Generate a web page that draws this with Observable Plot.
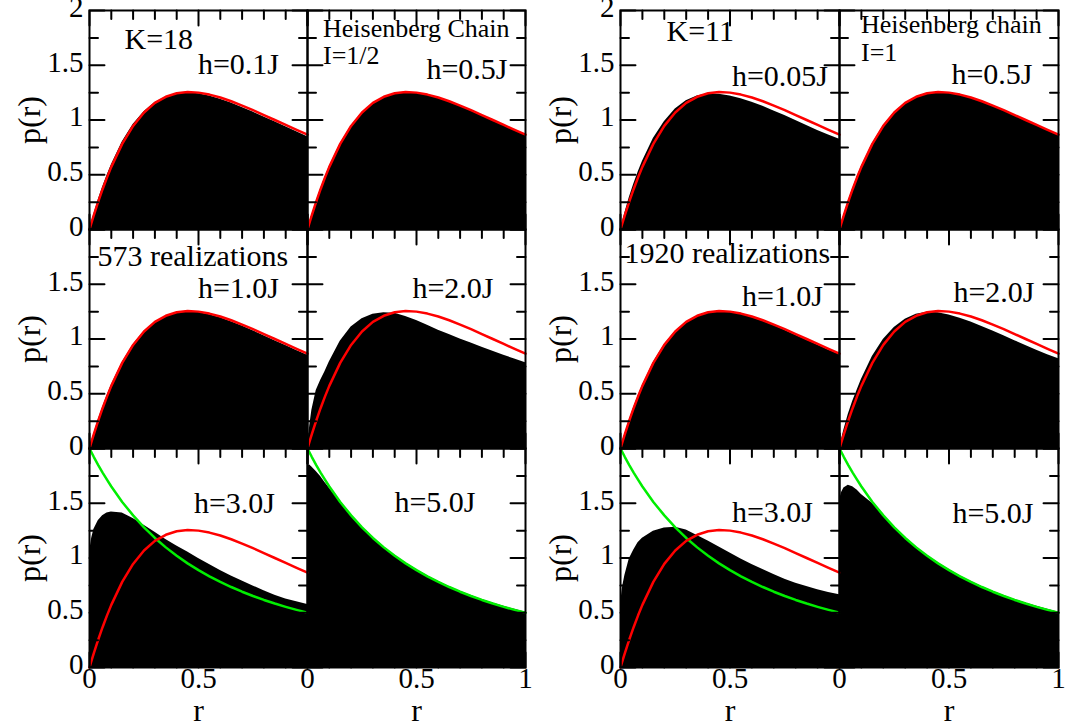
<!DOCTYPE html>
<html>
<head>
<meta charset="utf-8">
<script src="https://cdn.jsdelivr.net/npm/d3@7"></script>
<script src="https://cdn.jsdelivr.net/npm/@observablehq/plot@0.6"></script>
<style>
html, body { margin: 0; padding: 0; background: #fff; }
#wrap { position: relative; width: 1065px; height: 726px; overflow: hidden; background: #fff; }
#wrap svg { position: absolute; top: 0; overflow: visible; }
</style>
</head>
<body>
<div id="wrap"></div>
<script>
// ---------- data ----------
const rGrid = [0, 0.01, 0.02, 0.04, 0.06, 0.08, 0.1, 0.15, 0.2, 0.25, 0.3, 0.35, 0.4, 0.45, 0.5, 0.55, 0.6, 0.65, 0.7, 0.75, 0.8, 0.85, 0.9, 0.95, 1];

// red reference curve (GOE)
const wignerDyson = [0, 0.067, 0.131, 0.254, 0.368, 0.474, 0.572, 0.782, 0.946, 1.069, 1.156, 1.212, 1.244, 1.255, 1.250, 1.232, 1.205, 1.171, 1.132, 1.090, 1.045, 1.000, 0.955, 0.910, 0.866];
// green reference curve (Poisson)
const poisson = [2.0, 1.961, 1.922, 1.849, 1.780, 1.715, 1.653, 1.512, 1.389, 1.280, 1.183, 1.097, 1.020, 0.951, 0.889, 0.833, 0.781, 0.735, 0.692, 0.653, 0.617, 0.584, 0.554, 0.526, 0.5];

// K=18, Heisenberg chain I=1/2, 573 realizations
const k18_h01 = [0, 0.070, 0.140, 0.270, 0.385, 0.490, 0.590, 0.800, 0.960, 1.075, 1.160, 1.210, 1.240, 1.250, 1.240, 1.220, 1.190, 1.155, 1.115, 1.072, 1.028, 0.983, 0.938, 0.893, 0.848];
const k18_h05 = [0, 0.068, 0.133, 0.256, 0.370, 0.476, 0.574, 0.782, 0.945, 1.067, 1.153, 1.209, 1.240, 1.250, 1.245, 1.227, 1.199, 1.165, 1.126, 1.083, 1.038, 0.993, 0.948, 0.903, 0.860];
const k18_h10 = [0, 0.069, 0.135, 0.260, 0.374, 0.480, 0.578, 0.786, 0.948, 1.068, 1.153, 1.207, 1.238, 1.248, 1.242, 1.222, 1.193, 1.158, 1.118, 1.075, 1.030, 0.985, 0.940, 0.895, 0.852];
const k18_h20 = [0, 0.200, 0.350, 0.530, 0.620, 0.700, 0.790, 0.980, 1.110, 1.185, 1.225, 1.240, 1.235, 1.205, 1.170, 1.125, 1.080, 1.040, 1.000, 0.963, 0.925, 0.887, 0.852, 0.817, 0.783];
const k18_h30 = [1.050, 1.180, 1.260, 1.340, 1.385, 1.410, 1.420, 1.410, 1.360, 1.300, 1.235, 1.170, 1.110, 1.055, 0.995, 0.940, 0.885, 0.835, 0.790, 0.745, 0.700, 0.660, 0.625, 0.600, 0.575];
const k18_h50 = [1.840, 1.850, 1.830, 1.790, 1.745, 1.690, 1.640, 1.515, 1.393, 1.284, 1.188, 1.102, 1.025, 0.956, 0.894, 0.838, 0.786, 0.740, 0.697, 0.658, 0.622, 0.589, 0.559, 0.531, 0.505];

// K=11, Heisenberg chain I=1, 1920 realizations
const k11_h005 = [0, 0.075, 0.150, 0.290, 0.410, 0.520, 0.620, 0.830, 0.985, 1.100, 1.175, 1.220, 1.240, 1.235, 1.220, 1.195, 1.163, 1.125, 1.083, 1.040, 0.995, 0.950, 0.905, 0.862, 0.825];
const k11_h05 = [0, 0.068, 0.133, 0.257, 0.371, 0.477, 0.575, 0.784, 0.947, 1.068, 1.154, 1.209, 1.241, 1.251, 1.245, 1.227, 1.200, 1.166, 1.127, 1.085, 1.040, 0.995, 0.950, 0.905, 0.862];
const k11_h10 = [0, 0.068, 0.133, 0.257, 0.372, 0.478, 0.576, 0.785, 0.947, 1.068, 1.154, 1.209, 1.240, 1.250, 1.244, 1.225, 1.197, 1.162, 1.123, 1.080, 1.035, 0.990, 0.945, 0.900, 0.858];
const k11_h20 = [0, 0.090, 0.170, 0.310, 0.430, 0.530, 0.630, 0.840, 0.995, 1.105, 1.180, 1.225, 1.245, 1.240, 1.220, 1.190, 1.155, 1.115, 1.073, 1.030, 0.985, 0.940, 0.897, 0.857, 0.820];
const k11_h30 = [0.580, 0.740, 0.840, 0.990, 1.070, 1.140, 1.180, 1.245, 1.275, 1.280, 1.255, 1.205, 1.155, 1.100, 1.045, 0.990, 0.940, 0.895, 0.850, 0.805, 0.770, 0.740, 0.710, 0.685, 0.665];
const k11_h50 = [1.530, 1.600, 1.640, 1.665, 1.650, 1.620, 1.580, 1.500, 1.392, 1.285, 1.189, 1.103, 1.026, 0.956, 0.894, 0.838, 0.786, 0.740, 0.697, 0.658, 0.622, 0.589, 0.559, 0.531, 0.505];

// tick values
const yMajor = [0, 0.5, 1, 1.5, 2];
const yMinor = [0.25, 0.75, 1.25, 1.75];
const xMajor = [0, 0.5, 1];
const xMinor = [0.1, 0.2, 0.3, 0.4, 0.6, 0.7, 0.8, 0.9];
const yTickLabelsByRow = [[0, 0.5, 1, 1.5, 2], [0, 0.5, 1, 1.5], [0, 0.5, 1, 1.5]];
const xTickLabelsByCol = [[0, 0.5], [0, 0.5, 1]];

// ---------- drawing ----------
const FONT = "Liberation Serif, Times New Roman, DejaVu Serif, serif";
const cells = [[0, 0], [1, 0], [0, 1], [1, 1], [0, 2], [1, 2]];

function drawGroup(cfg) {
  const {panels, redPanels, greenPanels, notes, left, width, marginLeft, marginRight} = cfg;
  const H = 726, mt = 9, mb = 59;
  const fw = (width - marginLeft - marginRight) / 2;
  const fh = (H - mt - mb) / 3;
  const big = 15, small = 8.5;
  const fc = {fx: "col", fy: "row"};
  const curveTable = (list, vals) => list.flatMap(([col, row]) => rGrid.map((r, i) => ({col, row, r, p: vals[i]})));
  const blackTable = panels.flatMap(({col, row, p}) => rGrid.map((r, i) => ({col, row, r, p: p[i]})));
  const yLab = yTickLabelsByRow.flatMap((vals, row) => vals.map(v => ({col: 0, row, v})));
  const xLab = xTickLabelsByCol.flatMap((vals, col) => vals.map(v => ({col, row: 2, v})));
  const txt = {fontFamily: FONT, fill: "black"};

  // inward ticks of every panel as one broken polyline per panel (tick lengths in px -> data units)
  const ux = 1 / fw, uy = 2 / fh;
  const tickPts = cells.flatMap(([col, row]) => {
    const pts = [];
    const seg = (x1, y1, x2, y2) => pts.push({col, row, x: x1, y: y1}, {col, row, x: x2, y: y2}, {col, row, x: NaN, y: NaN});
    for (const [vals, len] of [[yMajor, big], [yMinor, small]]) for (const v of vals) {
      seg(0, v, len * ux, v);
      seg(1 - len * ux, v, 1, v);
    }
    for (const [vals, len] of [[xMajor, big], [xMinor, small]]) for (const v of vals) {
      seg(v, 0, v, len * uy);
      seg(v, 2 - len * uy, v, 2);
    }
    return pts;
  });

  const marks = [
    Plot.areaY(blackTable, {x: "r", y: "p", ...fc, fill: "black", curve: "linear"}),
    Plot.lineY(curveTable(greenPanels, poisson), {x: "r", y: "p", ...fc, stroke: "#00ee00", strokeWidth: 2.5}),
    Plot.lineY(curveTable(redPanels, wignerDyson), {x: "r", y: "p", ...fc, stroke: "#ff0000", strokeWidth: 2.5}),
    Plot.line(tickPts, {x: "x", y: "y", ...fc, stroke: "black", strokeWidth: 2, curve: "linear"}),
    Plot.frame({stroke: "black", strokeWidth: 2}),
    // tick labels
    Plot.text(yLab, {...fc, ...txt, y: "v", text: d => String(d.v), frameAnchor: "left", textAnchor: "end", dx: -6, dy: -3, fontSize: 29}),
    Plot.text(xLab, {...fc, ...txt, x: "v", text: d => String(d.v), frameAnchor: "bottom", dy: 20, fontSize: 29}),
    // axis titles
    Plot.text([0, 1, 2].map(row => ({col: 0, row})), {...fc, ...txt, text: () => "p(r)", frameAnchor: "left", textAnchor: "start", dx: -60, dy: 24, rotate: -90, fontSize: 32}),
    Plot.text([0, 1].map(col => ({col, row: 2})), {...fc, ...txt, text: () => "r", frameAnchor: "bottom", dy: 53, fontSize: 32}),
    // annotations
    ...notes.map(([text, col, row, anchor, dx, dy, size]) =>
      Plot.text([{col, row, text}], {...fc, ...txt, text: "text", frameAnchor: anchor,
        textAnchor: anchor.endsWith("left") ? "start" : "end", dx, dy, fontSize: size}))
  ];

  const svg = Plot.plot({
    width, height: H,
    marginLeft, marginRight, marginTop: mt, marginBottom: mb,
    style: {fontFamily: FONT, fontSize: "29px", background: "transparent", overflow: "visible", color: "black"},
    x: {domain: [0, 1], axis: null},
    y: {domain: [0, 2], axis: null},
    fx: {domain: [0, 1], padding: 0, axis: null},
    fy: {domain: [0, 1, 2], padding: 0, axis: null},
    marks
  });
  svg.setAttribute("font-family", FONT);
  svg.querySelectorAll("text").forEach(t => { t.setAttribute("font-family", FONT); t.style.fontFamily = FONT; });
  svg.style.left = left + "px";
  document.getElementById("wrap").appendChild(svg);
  return svg;
}

const redCells = [[0, 0], [1, 0], [0, 1], [1, 1], [0, 2]];
const greenCells = [[0, 2], [1, 2]];

drawGroup({
  left: 0, width: 540, marginLeft: 88, marginRight: 15,
  panels: [
    {col: 0, row: 0, p: k18_h01}, {col: 1, row: 0, p: k18_h05},
    {col: 0, row: 1, p: k18_h10}, {col: 1, row: 1, p: k18_h20},
    {col: 0, row: 2, p: k18_h30}, {col: 1, row: 2, p: k18_h50}
  ],
  redPanels: redCells,
  greenPanels: greenCells,
  notes: [
    ["K=18", 0, 0, "top-left", 35, 17, 30],
    ["h=0.1J", 0, 0, "top-right", -28.5, 42, 30],
    ["Heisenberg Chain", 1, 0, "top-left", 15.5, 8, 26],
    ["I=1/2", 1, 0, "top-left", 15.5, 35, 26],
    ["h=0.5J", 1, 0, "top-right", -18, 47, 30],
    ["573 realizations", 0, 1, "top-left", 8, 15, 30],
    ["h=1.0J", 0, 1, "top-right", -28.5, 47, 30],
    ["h=2.0J", 1, 1, "top-right", -32, 47, 30],
    ["h=3.0J", 0, 2, "top-right", -32.5, 43.5, 30],
    ["h=5.0J", 1, 2, "top-right", -50, 42.5, 30]
  ]
});

drawGroup({
  left: 540, width: 525, marginLeft: 79, marginRight: 7,
  panels: [
    {col: 0, row: 0, p: k11_h005}, {col: 1, row: 0, p: k11_h05},
    {col: 0, row: 1, p: k11_h10}, {col: 1, row: 1, p: k11_h20},
    {col: 0, row: 2, p: k11_h30}, {col: 1, row: 2, p: k11_h50}
  ],
  redPanels: redCells,
  greenPanels: greenCells,
  notes: [
    ["K=11", 0, 0, "top-left", 46, 9.5, 30],
    ["h=0.05J", 0, 0, "top-right", -11.5, 54, 30],
    ["Heisenberg chain", 1, 0, "top-left", 21.5, 4, 26],
    ["I=1", 1, 0, "top-left", 21.5, 32, 26],
    ["h=0.5J", 1, 0, "top-right", -26, 52, 30],
    ["1920 realizations", 0, 1, "top-left", 4, 12, 30],
    ["h=1.0J", 0, 1, "top-right", -16.5, 55, 30],
    ["h=2.0J", 1, 1, "top-right", -24, 51, 30],
    ["h=3.0J", 0, 2, "top-right", -26.5, 52.5, 30],
    ["h=5.0J", 1, 2, "top-right", -25, 53.5, 30]
  ]
});
</script>
</body>
</html>
